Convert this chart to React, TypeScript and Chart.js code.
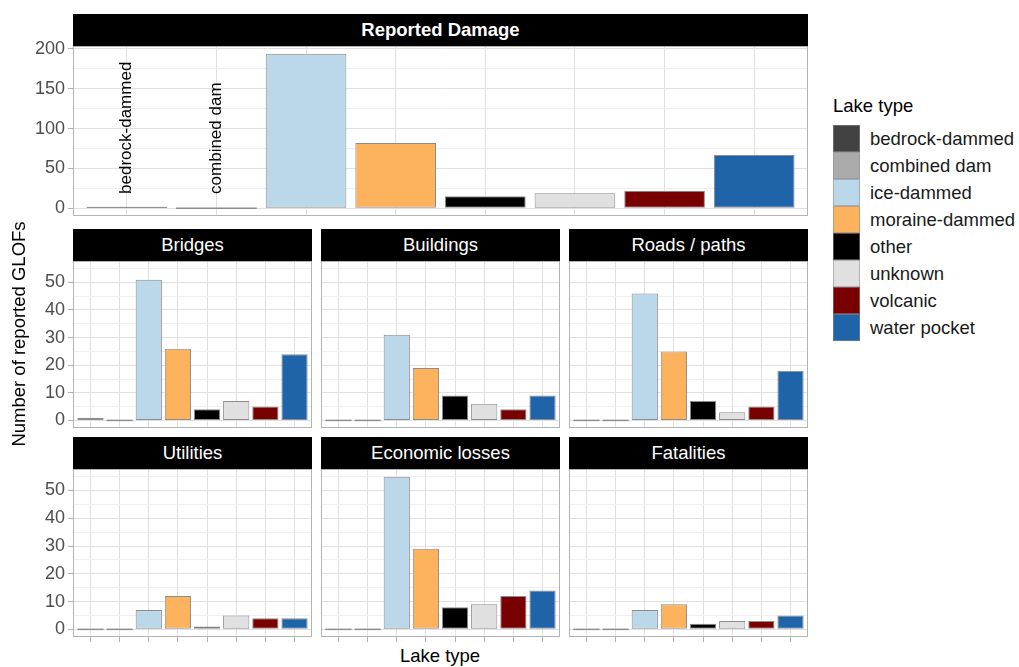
import React, { useEffect, useRef } from 'react';
import { Chart, registerables } from 'chart.js';

Chart.register(...registerables);

const FONT = '"Liberation Sans", Arial, Helvetica, sans-serif';

// Lake types and their fill colours
const lakeTypes = [
  'bedrock-dammed',
  'combined dam',
  'ice-dammed',
  'moraine-dammed',
  'other',
  'unknown',
  'volcanic',
  'water pocket',
];
const lakeColors = ['#424242', '#aaaaaa', '#bbd8ea', '#fdb25e', '#000000', '#e0e0e0', '#780000', '#1f64a8'];

// Types that get a rotated name written over their (near-empty) bar in the overview
const annotatedTypes = ['bedrock-dammed', 'combined dam'];
const annotationBase = 18;

// Number of reported GLOFs per lake type
const reportedDamage = [1, 0, 194, 82, 15, 19, 22, 67];
const bridges = [1, 0, 51, 26, 4, 7, 5, 24];
const buildings = [0, 0, 31, 19, 9, 6, 4, 9];
const roadsPaths = [0, 0, 46, 25, 7, 3, 5, 18];
const utilities = [0, 0, 7, 12, 1, 5, 4, 4];
const economicLosses = [0, 0, 55, 29, 8, 9, 12, 14];
const fatalities = [0, 0, 7, 9, 2, 3, 3, 5];

// Labelled y ticks (minor grid lines fall half way between)
const overviewTicks = [0, 50, 100, 150, 200];
const facetTicks = [0, 10, 20, 30, 40, 50];

const facetSeries = [bridges, buildings, roadsPaths, utilities, economicLosses, fatalities];
const facetMax = Math.max(...facetSeries.flat());

const BAR_OUTLINE = '#8c8c8c';
const PANEL_BORDER = '#b3b3b3';
const GRID_MAJOR = '#e0e0e0';
const GRID_MINOR = '#efefef';

const TICK_SIZE = 18;
const TEXT_SIZE = 18.5;
const ANNOTATION_SIZE = 17;

const panelBorder = {
  id: 'panelBorder',
  afterDraw(chart: any) {
    const { ctx, chartArea: a } = chart;
    ctx.save();
    ctx.strokeStyle = PANEL_BORDER;
    ctx.lineWidth = 1;
    ctx.strokeRect(a.left + 0.5, a.top + 0.5, a.right - a.left - 1, a.bottom - a.top - 1);
    ctx.restore();
  },
};

const typeLabels = {
  id: 'typeLabels',
  afterDatasetsDraw(chart: any) {
    const { ctx, scales } = chart;
    ctx.save();
    ctx.fillStyle = '#000000';
    ctx.font = `${ANNOTATION_SIZE}px ${FONT}`;
    ctx.textAlign = 'left';
    ctx.textBaseline = 'middle';
    annotatedTypes.forEach((name) => {
      const i = lakeTypes.indexOf(name);
      const px = scales.x.getPixelForValue(i + 1);
      const py = scales.y.getPixelForValue(annotationBase);
      ctx.save();
      ctx.translate(px, py);
      ctx.rotate(-Math.PI / 2);
      ctx.fillText(name, 0, 0);
      ctx.restore();
    });
    ctx.restore();
  },
};

type PanelProps = {
  values: number[];
  dataMax: number;
  labelled: number[];
  minorStep: number;
  left: number;
  top: number;
  width: number;
  height: number;
  showYLabels: boolean;
  showXTicks: boolean;
  annotate?: boolean;
};

function Panel(p: PanelProps) {
  const ref = useRef<HTMLCanvasElement>(null);
  const padTop = 12;
  const padRight = 2;
  const padBottom = 2;
  const axisW = p.showYLabels ? 66 : 0;
  const axisH = p.showXTicks ? 6 : 0;
  const cw = p.width + axisW + padRight;
  const ch = p.height + padTop + axisH + padBottom;

  useEffect(() => {
    if (!ref.current) return;
    const n = p.values.length;
    const expand = p.dataMax * 0.05;
    // very short bars keep their own colour as outline so they stay visible
    const outline = (c: any) => {
      const v = p.values[c.dataIndex];
      const y = c.chart.scales.y;
      if (v > 0 && y && Math.abs(y.getPixelForValue(v) - y.getPixelForValue(0)) < 2) return lakeColors[c.dataIndex];
      return BAR_OUTLINE;
    };
    const chart = new Chart(ref.current, {
      type: 'bar',
      data: {
        labels: lakeTypes,
        datasets: [
          {
            data: p.values.map((v, i) => ({ x: i + 1, y: v })) as any,
            backgroundColor: (c: any) => (p.values[c.dataIndex] === 0 ? BAR_OUTLINE : lakeColors[c.dataIndex]),
            borderColor: outline,
            borderWidth: (c: any) => (p.values[c.dataIndex] === 0 ? 0 : 1),
            borderSkipped: false,
            minBarLength: 1.5,
            barPercentage: 0.9,
            categoryPercentage: 1,
          },
        ],
      },
      options: {
        responsive: false,
        maintainAspectRatio: false,
        animation: false,
        events: [],
        layout: { padding: { top: padTop, right: padRight, bottom: padBottom, left: 0 } },
        plugins: { legend: { display: false }, tooltip: { enabled: false } },
        scales: {
          x: {
            type: 'linear',
            min: 0.4,
            max: n + 0.6,
            offset: false,
            ticks: { stepSize: 1, includeBounds: false, display: false, autoSkip: false },
            grid: {
              color: GRID_MAJOR,
              lineWidth: 1,
              drawTicks: p.showXTicks,
              tickLength: 5,
              tickColor: PANEL_BORDER,
              offset: false,
            },
            border: { display: false },
            afterFit: (s: any) => {
              s.height = axisH;
              s.paddingLeft = 0;
              s.paddingRight = 0;
            },
          },
          y: {
            type: 'linear',
            min: -expand,
            max: p.dataMax + expand,
            ticks: {
              stepSize: p.minorStep,
              includeBounds: false,
              autoSkip: false,
              display: p.showYLabels,
              padding: 3,
              color: '#4d4d4d',
              font: { family: FONT, size: TICK_SIZE },
              callback: (v: any) => (p.labelled.includes(Number(v)) ? String(v) : ''),
            },
            grid: {
              color: (c: any) => (p.labelled.includes(c.tick?.value) ? GRID_MAJOR : GRID_MINOR),
              lineWidth: 1,
              drawTicks: p.showYLabels,
              tickLength: 5,
              tickColor: (c: any) => (p.labelled.includes(c.tick?.value) ? PANEL_BORDER : 'rgba(0,0,0,0)'),
            },
            border: { display: false },
            afterFit: (s: any) => {
              s.width = axisW;
              s.paddingTop = 0;
              s.paddingBottom = 0;
            },
          },
        },
      } as any,
      plugins: p.annotate ? [panelBorder, typeLabels] : [panelBorder],
    });
    return () => chart.destroy();
  }, []);

  return (
    <canvas
      ref={ref}
      width={cw}
      height={ch}
      style={{ position: 'absolute', left: p.left - axisW, top: p.top - padTop, width: cw, height: ch }}
    />
  );
}

function Strip({ text, left, top, width, bold }: { text: string; left: number; top: number; width: number; bold?: boolean }) {
  return (
    <div
      style={{
        position: 'absolute',
        left,
        top,
        width,
        height: 32,
        lineHeight: '32px',
        background: '#000000',
        color: '#ffffff',
        fontSize: TEXT_SIZE,
        fontWeight: bold ? 'bold' : 'normal',
        textAlign: 'center',
      }}
    >
      {text}
    </div>
  );
}

const facetTitles = ['Bridges', 'Buildings', 'Roads / paths', 'Utilities', 'Economic losses', 'Fatalities'];
const colLefts = [73, 321, 569];
const colWidth = 239;
const rowTops = [261, 469];
const rowHeights = [167, 168];
const stripTops = [229, 437];

export default function App() {
  return (
    <div
      style={{
        position: 'absolute',
        left: 0,
        top: 0,
        width: 1019,
        height: 667,
        background: '#ffffff',
        fontFamily: FONT,
        overflow: 'hidden',
      }}
    >
      <Strip text="Reported Damage" left={73} top={14} width={735} bold />
      <Panel
        values={reportedDamage}
        dataMax={Math.max(...reportedDamage)}
        labelled={overviewTicks}
        minorStep={25}
        left={73}
        top={46}
        width={735}
        height={170}
        showYLabels
        showXTicks={false}
        annotate
      />

      {facetSeries.map((vals, k) => {
        const row = Math.floor(k / 3);
        const col = k % 3;
        return (
          <React.Fragment key={facetTitles[k]}>
            <Strip text={facetTitles[k]} left={colLefts[col]} top={stripTops[row]} width={colWidth} />
            <Panel
              values={vals}
              dataMax={facetMax}
              labelled={facetTicks}
              minorStep={5}
              left={colLefts[col]}
              top={rowTops[row]}
              width={colWidth}
              height={rowHeights[row]}
              showYLabels={col === 0}
              showXTicks={row === 1}
            />
          </React.Fragment>
        );
      })}

      {/* axis titles */}
      <div
        style={{
          position: 'absolute',
          left: 18.5 - 150,
          top: 334 - 11,
          width: 300,
          height: 22,
          lineHeight: '22px',
          textAlign: 'center',
          fontSize: TEXT_SIZE,
          color: '#000000',
          transform: 'rotate(-90deg)',
        }}
      >
        Number of reported GLOFs
      </div>
      <div
        style={{
          position: 'absolute',
          left: 440 - 100,
          top: 645,
          width: 200,
          height: 22,
          lineHeight: '22px',
          textAlign: 'center',
          fontSize: TEXT_SIZE,
          color: '#000000',
        }}
      >
        Lake type
      </div>

      {/* legend */}
      <div style={{ position: 'absolute', left: 833, top: 96, fontSize: TEXT_SIZE, lineHeight: '20px', color: '#000000' }}>
        Lake type
      </div>
      {lakeTypes.map((name, i) => (
        <React.Fragment key={name}>
          <div
            style={{
              position: 'absolute',
              left: 833,
              top: 125 + i * 27,
              width: 27,
              height: 27,
              boxSizing: 'border-box',
              background: lakeColors[i],
              border: '1px solid rgba(140,140,140,0.55)',
            }}
          />
          <div
            style={{
              position: 'absolute',
              left: 870,
              top: 125 + i * 27,
              height: 27,
              lineHeight: '27px',
              fontSize: TEXT_SIZE,
              color: '#1a1a1a',
              whiteSpace: 'nowrap',
            }}
          >
            {name}
          </div>
        </React.Fragment>
      ))}
    </div>
  );
}
